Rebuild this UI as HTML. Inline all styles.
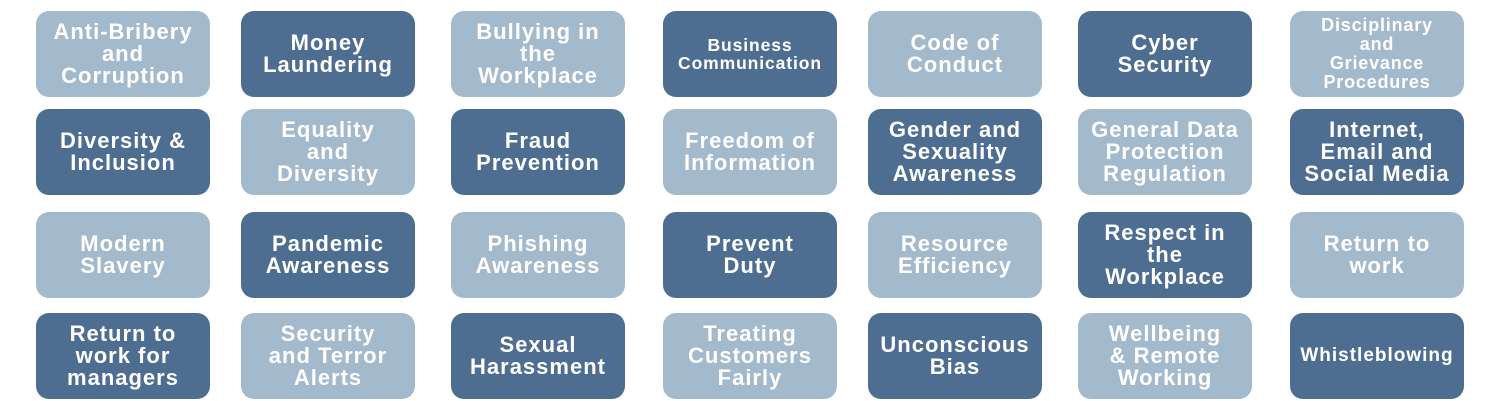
<!DOCTYPE html>
<html><head><style>
body{margin:0;width:1500px;height:401px;background:#fff;position:relative;overflow:hidden;font-family:"Liberation Sans",sans-serif;}
.b{position:absolute;width:174px;height:86px;border-radius:13px;display:flex;align-items:center;justify-content:center;text-align:center;color:#fff;font-weight:bold;font-size:22px;line-height:22px;letter-spacing:1px}
.L{background:#a3b9cc}.D{background:#4d6e91}
.s{font-size:17.5px;line-height:18px;letter-spacing:0.9px}
.m{font-size:18px;line-height:19px;letter-spacing:0.8px}
.w{font-size:19px;letter-spacing:1px}
</style></head><body>
<div class="b L" style="left:36px;top:11px">Anti-Bribery<br>and<br>Corruption</div>
<div class="b D" style="left:241px;top:11px">Money<br>Laundering</div>
<div class="b L" style="left:451px;top:11px">Bullying in<br>the<br>Workplace</div>
<div class="b D s" style="left:663px;top:11px">Business<br>Communication</div>
<div class="b L" style="left:868px;top:11px">Code of<br>Conduct</div>
<div class="b D" style="left:1078px;top:11px">Cyber<br>Security</div>
<div class="b L m" style="left:1290px;top:11px">Disciplinary<br>and<br>Grievance<br>Procedures</div>

<div class="b D" style="left:36px;top:109px">Diversity &amp;<br>Inclusion</div>
<div class="b L" style="left:241px;top:109px">Equality<br>and<br>Diversity</div>
<div class="b D" style="left:451px;top:109px">Fraud<br>Prevention</div>
<div class="b L" style="left:663px;top:109px">Freedom of<br>Information</div>
<div class="b D" style="left:868px;top:109px">Gender and<br>Sexuality<br>Awareness</div>
<div class="b L" style="left:1078px;top:109px">General Data<br>Protection<br>Regulation</div>
<div class="b D" style="left:1290px;top:109px">Internet,<br>Email and<br>Social Media</div>

<div class="b L" style="left:36px;top:212px">Modern<br>Slavery</div>
<div class="b D" style="left:241px;top:212px">Pandemic<br>Awareness</div>
<div class="b L" style="left:451px;top:212px">Phishing<br>Awareness</div>
<div class="b D" style="left:663px;top:212px">Prevent<br>Duty</div>
<div class="b L" style="left:868px;top:212px">Resource<br>Efficiency</div>
<div class="b D" style="left:1078px;top:212px">Respect in<br>the<br>Workplace</div>
<div class="b L" style="left:1290px;top:212px">Return to<br>work</div>

<div class="b D" style="left:36px;top:313px">Return to<br>work for<br>managers</div>
<div class="b L" style="left:241px;top:313px">Security<br>and Terror<br>Alerts</div>
<div class="b D" style="left:451px;top:313px">Sexual<br>Harassment</div>
<div class="b L" style="left:663px;top:313px">Treating<br>Customers<br>Fairly</div>
<div class="b D" style="left:868px;top:313px">Unconscious<br>Bias</div>
<div class="b L" style="left:1078px;top:313px">Wellbeing<br>&amp; Remote<br>Working</div>
<div class="b D w" style="left:1290px;top:313px">Whistleblowing</div>
</body></html>
